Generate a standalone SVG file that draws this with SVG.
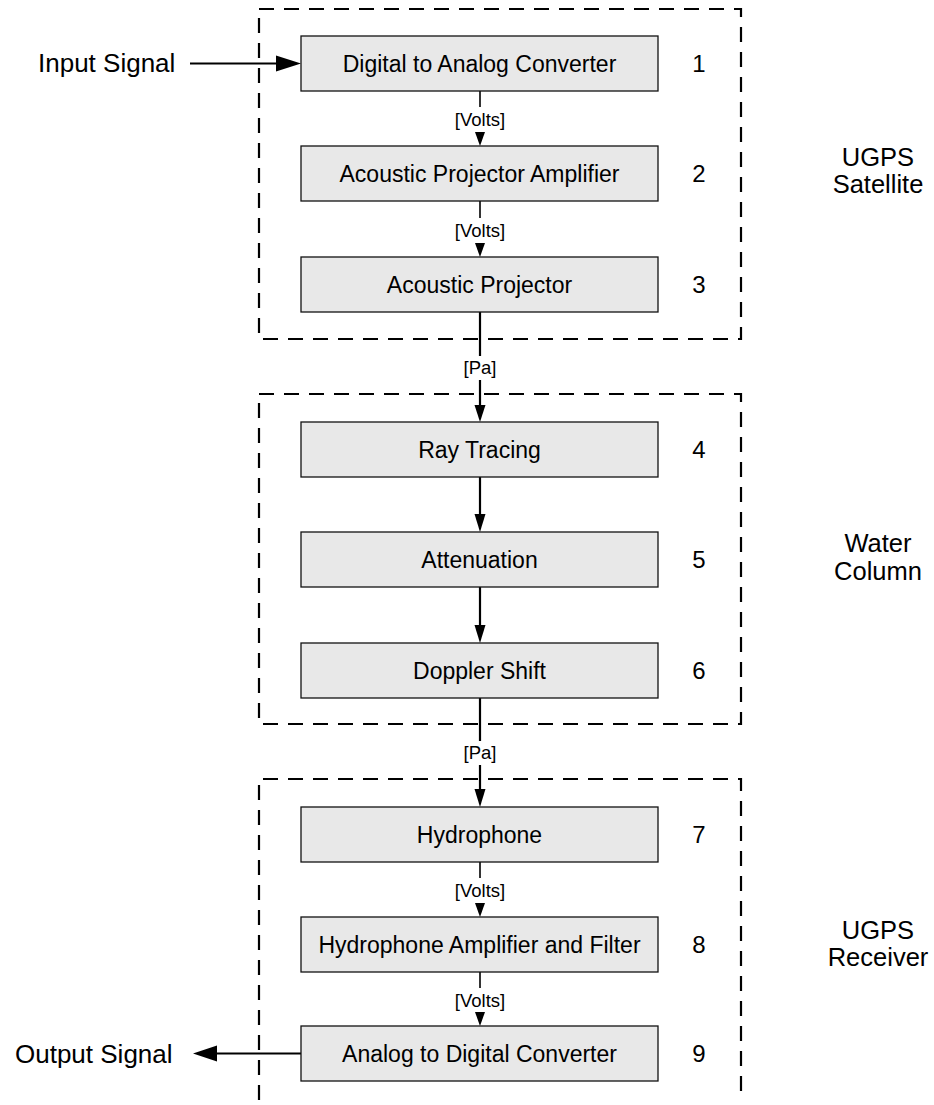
<svg xmlns="http://www.w3.org/2000/svg" width="934" height="1105" viewBox="0 0 934 1105">
<style>
text{font-family:"Liberation Sans",Arial,sans-serif;fill:#000}
.box{fill:#e8e8e8;stroke:#111;stroke-width:1.3}
.bt{font-size:23px;text-anchor:middle}
.num{font-size:24px;text-anchor:middle}
.sec{font-size:25.5px;text-anchor:middle}
.sig{font-size:26px}
.lbl{font-size:18.5px;text-anchor:middle}
.grp{fill:none;stroke:#000;stroke-width:2.2;stroke-dasharray:15 10}
.thin{stroke:#000;stroke-width:1.6;fill:none}
.thick{stroke:#000;stroke-width:2.2;fill:none}
.ah{fill:#000}
</style>
<g id="groups">
<rect id="grp-satellite" class="grp" x="259" y="9" width="482" height="330"/>
<rect id="grp-water" class="grp" x="259" y="394" width="482" height="330"/>
<path id="grp-receiver" class="grp" d="M259,1100 V779 H741 V1100"/>
<text class="sec" x="878" y="166">UGPS</text>
<text class="sec" x="878" y="193">Satellite</text>
<text class="sec" x="878" y="552">Water</text>
<text class="sec" x="878" y="580">Column</text>
<text class="sec" x="878" y="939">UGPS</text>
<text class="sec" x="878" y="966">Receiver</text>
</g>
<g id="connectors">
<text class="sig" x="38" y="72">Input Signal</text>
<line class="thick" x1="190" y1="63.5" x2="280" y2="63.5"/>
<polygon class="ah" points="276,55.5 301,63.5 276,71.5"/>
<line class="thin" x1="480" y1="91" x2="480" y2="107"/>
<text class="lbl" x="480" y="126">[Volts]</text>
<polygon class="ah" points="475,132 485,132 480,146"/>
<line class="thin" x1="480" y1="201" x2="480" y2="218"/>
<text class="lbl" x="480" y="237">[Volts]</text>
<polygon class="ah" points="475,243 485,243 480,257"/>
<line class="thick" x1="480" y1="312" x2="480" y2="356"/>
<text class="lbl" x="480" y="374">[Pa]</text>
<line class="thick" x1="480" y1="380" x2="480" y2="408"/>
<polygon class="ah" points="474.5,405 485.5,405 480,422"/>
<line class="thick" x1="480" y1="477" x2="480" y2="516"/>
<polygon class="ah" points="474.5,514 485.5,514 480,532"/>
<line class="thick" x1="480" y1="587" x2="480" y2="627"/>
<polygon class="ah" points="474.5,625 485.5,625 480,643"/>
<line class="thick" x1="480" y1="698" x2="480" y2="741"/>
<text class="lbl" x="480" y="759">[Pa]</text>
<line class="thick" x1="480" y1="765" x2="480" y2="792"/>
<polygon class="ah" points="474.5,789 485.5,789 480,807"/>
<line class="thin" x1="480" y1="862" x2="480" y2="878"/>
<text class="lbl" x="480" y="897">[Volts]</text>
<polygon class="ah" points="475,903 485,903 480,917"/>
<line class="thin" x1="480" y1="972" x2="480" y2="988"/>
<text class="lbl" x="480" y="1007">[Volts]</text>
<polygon class="ah" points="475,1012 485,1012 480,1026"/>
<line class="thick" x1="301" y1="1053.5" x2="213" y2="1053.5"/>
<polygon class="ah" points="217,1045.5 193,1053.5 217,1061.5"/>
<text class="sig" x="15" y="1063">Output Signal</text>
</g>
<g id="n1"><rect class="box" x="301" y="36" width="357" height="55"/><text class="bt" x="479.5" y="72">Digital to Analog Converter</text><text class="num" x="699" y="72">1</text></g>
<g id="n2"><rect class="box" x="301" y="146" width="357" height="55"/><text class="bt" x="479.5" y="182">Acoustic Projector Amplifier</text><text class="num" x="699" y="182">2</text></g>
<g id="n3"><rect class="box" x="301" y="257" width="357" height="55"/><text class="bt" x="479.5" y="293">Acoustic Projector</text><text class="num" x="699" y="293">3</text></g>
<g id="n4"><rect class="box" x="301" y="422" width="357" height="55"/><text class="bt" x="479.5" y="458">Ray Tracing</text><text class="num" x="699" y="458">4</text></g>
<g id="n5"><rect class="box" x="301" y="532" width="357" height="55"/><text class="bt" x="479.5" y="568">Attenuation</text><text class="num" x="699" y="568">5</text></g>
<g id="n6"><rect class="box" x="301" y="643" width="357" height="55"/><text class="bt" x="479.5" y="679">Doppler Shift</text><text class="num" x="699" y="679">6</text></g>
<g id="n7"><rect class="box" x="301" y="807" width="357" height="55"/><text class="bt" x="479.5" y="843">Hydrophone</text><text class="num" x="699" y="843">7</text></g>
<g id="n8"><rect class="box" x="301" y="917" width="357" height="55"/><text class="bt" x="479.5" y="953">Hydrophone Amplifier and Filter</text><text class="num" x="699" y="953">8</text></g>
<g id="n9"><rect class="box" x="301" y="1026" width="357" height="55"/><text class="bt" x="479.5" y="1062">Analog to Digital Converter</text><text class="num" x="699" y="1062">9</text></g>
</svg>
